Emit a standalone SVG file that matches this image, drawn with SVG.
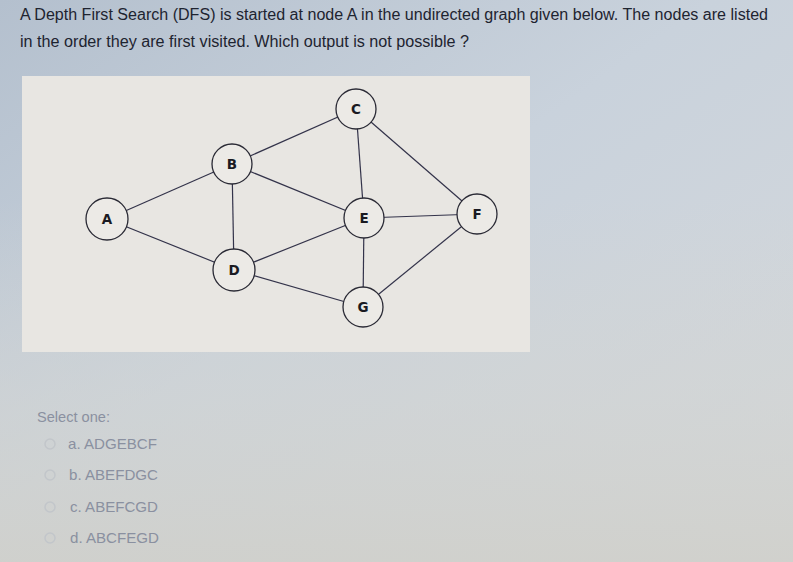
<svg xmlns="http://www.w3.org/2000/svg" width="793" height="562" viewBox="0 0 793 562">
<defs>
<linearGradient id="bg" x1="0" y1="0" x2="1" y2="1">
<stop offset="0" stop-color="#b4c0ce"/>
<stop offset="0.45" stop-color="#c9d2dc"/>
<stop offset="1" stop-color="#d6d9dc"/>
</linearGradient>
<linearGradient id="fade" x1="0" y1="0" x2="0" y2="1">
<stop offset="0" stop-color="#d2d4d2" stop-opacity="0"/>
<stop offset="0.55" stop-color="#d2d4d2" stop-opacity="0.6"/>
<stop offset="1" stop-color="#d0d0cb" stop-opacity="0.9"/>
</linearGradient>
<style>
.q{font-family:"Liberation Sans",Arial,sans-serif;font-size:16px;fill:#1e2430}
.o{font-family:"Liberation Sans",Arial,sans-serif;font-size:15px;fill:#8a90a0}
.n circle{fill:#eceae6;stroke:#2a2a35;stroke-width:1.3}
.n text{font-family:"DejaVu Sans","Liberation Sans",sans-serif;font-size:13.5px;font-weight:bold;fill:#1a1a22;text-anchor:middle}
.e line{stroke:#33334a;stroke-width:1.2}
.r{fill:none;stroke:#c2c6ca;stroke-width:1.5}
</style>
</defs>
<rect width="793" height="562" fill="url(#bg)"/>
<rect x="0" y="200" width="793" height="362" fill="url(#fade)"/>
<text class="q" x="20" y="20" textLength="748" lengthAdjust="spacingAndGlyphs">A Depth First Search (DFS) is started at node A in the undirected graph given below. The nodes are listed</text>
<text class="q" x="20" y="47" textLength="449" lengthAdjust="spacingAndGlyphs">in the order they are first visited. Which output is not possible ?</text>
<rect x="22" y="76" width="508" height="276" fill="#e8e6e2"/>
<g class="e" id="edges">
<line x1="107" y1="219" x2="232" y2="164"/>
<line x1="107" y1="219" x2="234" y2="270"/>
<line x1="232" y1="164" x2="356" y2="109"/>
<line x1="232" y1="164" x2="364" y2="218"/>
<line x1="232" y1="164" x2="234" y2="270"/>
<line x1="356" y1="109" x2="364" y2="218"/>
<line x1="356" y1="109" x2="477" y2="214"/>
<line x1="364" y1="218" x2="477" y2="214"/>
<line x1="234" y1="270" x2="364" y2="218"/>
<line x1="234" y1="270" x2="363" y2="307"/>
<line x1="364" y1="218" x2="363" y2="307"/>
<line x1="477" y1="214" x2="363" y2="307"/>
</g>
<g class="n" id="node-A"><circle cx="107" cy="219" r="21"/><text x="107" y="224">A</text></g>
<g class="n" id="node-B"><circle cx="232" cy="164" r="20"/><text x="232" y="169">B</text></g>
<g class="n" id="node-C"><circle cx="356" cy="109" r="20"/><text x="356" y="114">C</text></g>
<g class="n" id="node-D"><circle cx="234" cy="270" r="21"/><text x="234" y="275">D</text></g>
<g class="n" id="node-E"><circle cx="364" cy="218" r="20"/><text x="364" y="223">E</text></g>
<g class="n" id="node-F"><circle cx="477" cy="214" r="20"/><text x="477" y="219">F</text></g>
<g class="n" id="node-G"><circle cx="363" cy="307" r="20"/><text x="363" y="312">G</text></g>
<text class="o" x="37" y="422" textLength="73" lengthAdjust="spacingAndGlyphs">Select one:</text>
<circle class="r" cx="50" cy="444" r="5"/>
<text class="o" x="68" y="449" textLength="89" lengthAdjust="spacingAndGlyphs">a. ADGEBCF</text>
<circle class="r" cx="50" cy="475" r="5"/>
<text class="o" x="69" y="480" textLength="89" lengthAdjust="spacingAndGlyphs">b. ABEFDGC</text>
<circle class="r" cx="50" cy="507" r="5"/>
<text class="o" x="70" y="512" textLength="88" lengthAdjust="spacingAndGlyphs">c. ABEFCGD</text>
<circle class="r" cx="50" cy="538" r="5"/>
<text class="o" x="70" y="543" textLength="89" lengthAdjust="spacingAndGlyphs">d. ABCFEGD</text>
</svg>
